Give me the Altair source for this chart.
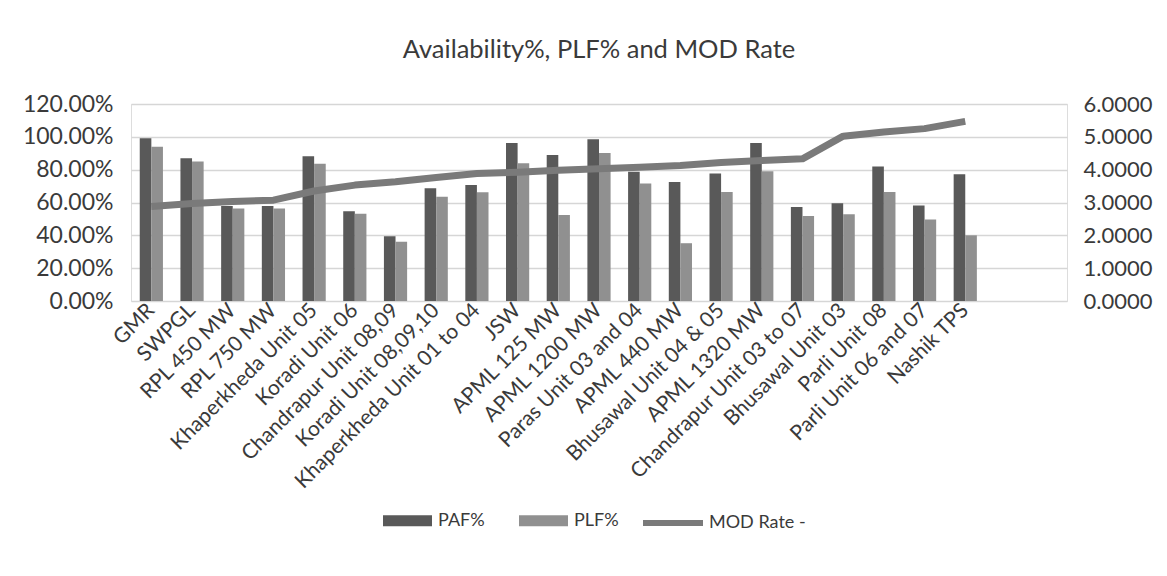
import altair as alt
import pandas as pd

categories = ["GMR", "SWPGL", "RPL 450 MW", "RPL 750 MW", "Khaperkheda Unit 05",
              "Koradi Unit 06", "Chandrapur Unit 08,09", "Koradi Unit 08,09,10",
              "Khaperkheda Unit 01 to 04", "JSW", "APML 125 MW", "APML 1200 MW",
              "Paras Unit 03 and 04", "APML 440 MW", "Bhusawal Unit 04 & 05",
              "APML 1320 MW", "Chandrapur Unit 03 to 07", "Bhusawal Unit 03",
              "Parli Unit 08", "Parli Unit 06 and 07", "Nashik TPS"]
blank_slots = [" ", "  "]
paf = [99.2, 87.0, 57.8, 57.9, 88.2, 54.6, 39.4, 68.7, 70.7, 96.2, 89.0, 98.6,
       78.7, 72.5, 77.7, 96.3, 57.3, 59.6, 82.0, 58.2, 77.2]
plf = [94.0, 84.9, 56.3, 56.3, 83.6, 53.2, 36.1, 63.5, 66.2, 83.9, 52.4, 90.1,
       71.6, 35.2, 66.4, 79.0, 51.8, 52.8, 66.4, 49.7, 40.0]
mod_rate = [2.88, 2.97, 3.03, 3.07, 3.35, 3.53, 3.63, 3.76, 3.88, 3.92, 3.98, 4.03,
            4.07, 4.13, 4.22, 4.28, 4.33, 5.02, 5.15, 5.25, 5.47]
bar_series = ["PAF%", "PLF%"]
line_series = "MOD Rate -"
left_ticks = [0, 0.2, 0.4, 0.6, 0.8, 1.0, 1.2]
right_ticks = [0, 1, 2, 3, 4, 5, 6]

FONT = "Lato"
TXT = "#3a3a3a"

n = len(categories)
bars_df = pd.DataFrame({
    "cat": categories * 2,
    "series": [bar_series[0]] * n + [bar_series[1]] * n,
    "value": [v / 100 for v in paf + plf],
})
line_df = pd.DataFrame({"cat": categories, "mod": mod_rate,
                        "series": [line_series] * n})

x_enc = alt.X("cat:N",
              scale=alt.Scale(domain=categories + blank_slots,
                              paddingInner=0.43, paddingOuter=0.215),
              axis=alt.Axis(title=None, labelAngle=-45, labelAlign="right",
                            labelBaseline="middle", labelFont=FONT,
                            labelFontSize=21, labelColor=TXT, ticks=False,
                            domain=False, labelPadding=6, grid=False,
                            labelOverlap=False, labelLimit=400))

bars = alt.Chart(bars_df).mark_bar().encode(
    x=x_enc,
    xOffset=alt.XOffset("series:N", scale=alt.Scale(domain=bar_series,
                                                    paddingInner=0, paddingOuter=0)),
    y=alt.Y("value:Q",
            scale=alt.Scale(domain=[0, 1.2], nice=False),
            axis=alt.Axis(title=None, values=left_ticks, format=".2%",
                          labelFont=FONT, labelFontSize=23, labelColor=TXT,
                          ticks=False, domain=False, labelPadding=18,
                          gridColor="#d6d6d6", gridWidth=1.5)),
    color=alt.Color("series:N",
                    scale=alt.Scale(domain=bar_series, range=["#595959", "#909090"]),
                    legend=alt.Legend(title=None, orient="none", direction="horizontal",
                                      legendX=252, legendY=392,
                                      symbolType="M-1,-0.22H1V0.22H-1Z",
                                      symbolSize=2401, symbolStrokeWidth=0,
                                      labelFont=FONT, labelFontSize=18,
                                      labelColor=TXT, columnPadding=34,
                                      labelOffset=6)),
)

line = alt.Chart(line_df).mark_line(strokeWidth=7, strokeJoin="round").encode(
    x=alt.X("cat:N"),
    y=alt.Y("mod:Q",
            scale=alt.Scale(domain=[0, 6], nice=False),
            axis=alt.Axis(title=None, orient="right", values=right_ticks,
                          format=".4f", labelFont=FONT, labelFontSize=22,
                          labelColor=TXT, ticks=False, domain=False,
                          grid=False, labelPadding=16)),
    stroke=alt.Stroke("series:N",
                      scale=alt.Scale(domain=[line_series], range=["#7a7a7a"]),
                      legend=alt.Legend(title=None, orient="none",
                                        legendX=509, legendY=386,
                                        symbolType="stroke", symbolSize=3600,
                                        symbolStrokeWidth=6,
                                        labelFont=FONT, labelFontSize=18,
                                        labelColor=TXT, labelOffset=3)),
)

chart = alt.layer(bars, line).resolve_scale(
    y="independent", color="independent", stroke="independent"
).properties(
    width=936, height=197,
    title=alt.TitleParams("Availability%, PLF% and MOD Rate", font=FONT,
                          fontSize=25.5, fontWeight="normal", color=TXT,
                          anchor="middle", frame="group", baseline="alphabetic",
                          offset=10),
    autosize=alt.AutoSizeParams(type="none"),
    padding={"left": 123, "top": 96, "right": 88, "bottom": 259},
).configure_view(stroke=None).configure(background="white")

chart.save("out.html", embed_options={"renderer": "svg", "actions": False})
